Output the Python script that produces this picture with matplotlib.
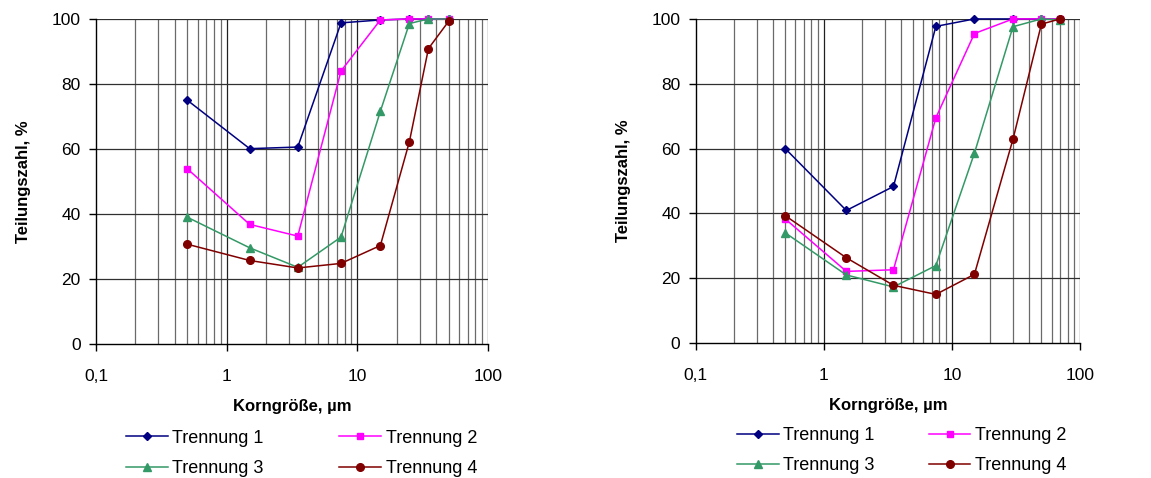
import numpy as np
import matplotlib
matplotlib.use('Agg')
import matplotlib.pyplot as plt
from matplotlib.ticker import FixedLocator, NullFormatter, FixedFormatter

plt.rcParams['font.family'] = ['Liberation Sans', 'DejaVu Sans']

### Data
series_names = ['Trennung 1', 'Trennung 2', 'Trennung 3', 'Trennung 4']

x_left = [0.5, 1.5, 3.5, 7.5, 15, 25, 35, 50]
left_t1 = [75.0, 60.1, 60.6, 98.8, 99.7, 100, 100, 100]
left_t2 = [53.9, 36.8, 33.2, 84.0, 99.7, 100, 100, 100]
left_t3 = [39.0, 29.6, 23.6, 32.9, 71.6, 98.6, 100, 100]
left_t4 = [30.7, 25.7, 23.4, 24.8, 30.3, 62.2, 90.9, 99.3]

x_right = [0.5, 1.5, 3.5, 7.5, 15, 30, 50, 70]
right_t1 = [60.0, 40.9, 48.3, 97.7, 100, 100, 100, 100]
right_t2 = [38.3, 22.1, 22.6, 69.5, 95.5, 100, 100, 100]
right_t3 = [34.0, 21.0, 17.3, 23.9, 58.6, 97.6, 100, 99.7]
right_t4 = [39.3, 26.3, 17.8, 15.0, 21.2, 62.9, 98.4, 100]

xtick_vals = [0.1, 1, 10, 100]
xtick_labels = ['0,1', '1', '10', '100']
ytick_vals = [0, 20, 40, 60, 80, 100]

colors = ['#000080', '#FF00FF', '#339966', '#800000']
markers = ['D', 's', '^', 'o']
msizes = [4.5, 5.0, 6.0, 5.5]


def plot_panel(ax, xx, ys, leg_anchor, colsp):
    ax.set_xscale('log')
    ax.set_xlim(0.1, 100)
    ax.set_ylim(0, 100)

    ### grid
    minors = [m * 10.0**e for e in (-1, 0, 1) for m in range(2, 10)]
    for xv in minors:
        ax.axvline(xv, color='#6a6a6a', lw=0.9, zorder=0)
    for xv in [1, 10, 100]:
        ax.axvline(xv, color='#202020', lw=0.9, zorder=0)
    for yv in ytick_vals[1:]:
        ax.axhline(yv, color='#303030', lw=0.9, zorder=0)

    hh = []
    for i, yy in enumerate(ys):
        h, = ax.plot(xx, yy, color=colors[i], marker=markers[i], ms=msizes[i],
                     lw=1.1, label=series_names[i], zorder=3, clip_on=False)
        hh.append(h)

    ax.xaxis.set_major_locator(FixedLocator(xtick_vals))
    ax.xaxis.set_major_formatter(FixedFormatter(xtick_labels))
    ax.xaxis.set_minor_locator(FixedLocator([]))
    ax.xaxis.set_minor_formatter(NullFormatter())
    ax.set_yticks(ytick_vals)

    for s in ['top', 'right']:
        ax.spines[s].set_visible(False)
    for s in ['left', 'bottom']:
        ax.spines[s].set_color('black')
        ax.spines[s].set_linewidth(1.0)

    ax.tick_params(axis='both', direction='out', length=5, width=1,
                   labelsize=12.5, colors='black')
    ax.tick_params(axis='x', pad=13)
    ax.tick_params(axis='y', pad=6)

    ax.set_xlabel('Korngröße, µm', fontsize=12, fontweight='bold', labelpad=11)
    ax.set_ylabel('Teilungszahl, %', fontsize=12, fontweight='bold', labelpad=15)

    ### row-wise legend order: 1 2 / 3 4
    order = [0, 2, 1, 3]
    ax.legend([hh[k] for k in order], [series_names[k] for k in order],
              loc='upper left', bbox_to_anchor=leg_anchor,
              bbox_transform=ax.figure.transFigure, ncol=2, frameon=False,
              fontsize=13, handlelength=2.3, handletextpad=0.25,
              columnspacing=colsp, labelspacing=0.75, borderaxespad=0)


def main():
    fig = plt.figure(figsize=(11.51, 4.78), dpi=100)

    ax1 = fig.add_axes([0.0834, 0.2803, 0.3406, 0.680])
    ax2 = fig.add_axes([0.6044, 0.2824, 0.3339, 0.678])

    plot_panel(ax1, x_left, [left_t1, left_t2, left_t3, left_t4], (0.1034, 0.116), 4.2)
    plot_panel(ax2, x_right, [right_t1, right_t2, right_t3, right_t4], (0.6342, 0.122), 3.0)

    fig.savefig('out.png', dpi=100)


if __name__ == "__main__":
    main()
